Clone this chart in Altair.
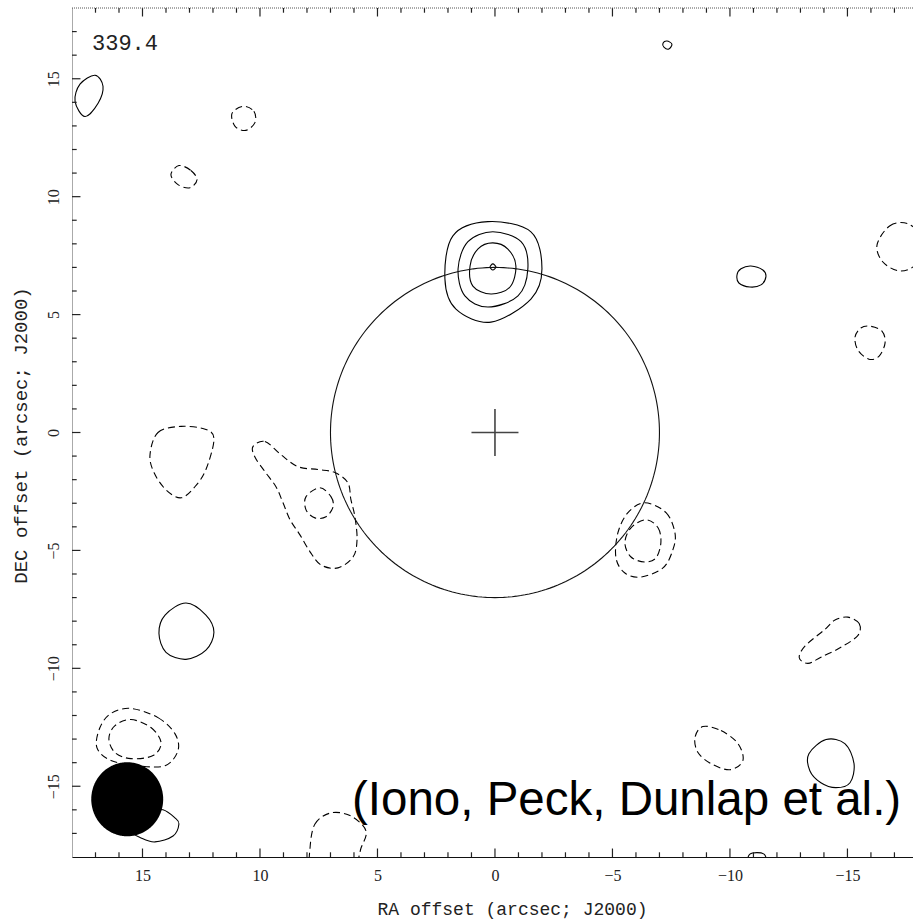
import numpy as np
import pandas as pd
import altair as alt

# ---- map extent (arcsec) ----
RA_MAX, RA_MIN = 18.0, -17.79
DEC_MIN, DEC_MAX = -18.0, 18.0

# ---- tick positions and inward tick lengths (arcsec) ----
MAJOR_TICKS = [-15, -10, -5, 0, 5, 10, 15]
MINOR_TICKS = [v for v in range(-17, 18) if v % 5 != 0]
MAJOR_LEN = 0.36
MINOR_LEN = 0.2

# ---- positive (solid) contours: (RA offset, DEC offset) ----
NW_SOLID = [(17.02, 15.15), (16.68, 14.68), (16.89, 13.96), (17.45, 13.40), (17.87, 14.04), (17.66, 14.77)]
N_SMALL = [(-7.32, 16.60), (-7.53, 16.47), (-7.40, 16.26), (-7.19, 16.34), (-7.15, 16.51)]
E_SOLID = [(-10.89, 7.06), (-11.40, 6.89), (-11.53, 6.60), (-11.32, 6.26), (-10.85, 6.17), (-10.38, 6.34), (-10.30, 6.68), (-10.47, 6.94)]
SRC_1 = [(0.30, 8.94), (-1.53, 8.51), (-2.00, 6.94), (-1.53, 5.66), (0.17, 4.68), (1.66, 5.23), (2.13, 6.51), (1.79, 8.34)]
SRC_2 = [(0.09, 8.51), (-1.11, 8.09), (-1.40, 6.94), (-0.98, 5.79), (0.30, 5.32), (1.28, 5.79), (1.57, 6.94), (1.15, 8.09)]
SRC_3 = [(0.09, 8.04), (-0.55, 7.78), (-0.89, 7.06), (-0.64, 6.17), (0.17, 5.87), (0.94, 6.21), (1.06, 7.06), (0.72, 7.79)]
SRC_4 = [(0.09, 7.15), (-0.04, 7.02), (0.09, 6.89), (0.21, 7.02)]
SW_SOLID = [(13.15, -7.23), (12.30, -7.74), (11.96, -8.47), (12.30, -9.23), (13.15, -9.62), (14.00, -9.32), (14.30, -8.51), (14.04, -7.74)]
BEAM_SIDE = [(14.13, -16.00), (13.62, -16.34), (13.45, -16.60), (13.70, -17.11), (14.47, -17.36), (15.06, -17.19), (15.49, -16.89), (15.32, -16.34), (14.77, -16.04)]
SE_SOLID = [(-14.09, -13.02), (-14.89, -13.19), (-15.28, -14.04), (-15.11, -14.85), (-14.51, -15.06), (-13.87, -14.85), (-13.40, -14.34), (-13.36, -13.62)]
S_EDGE_SOLID = [(-10.85, -17.88), (-11.45, -17.88), (-11.50, -18.40), (-10.80, -18.40)]

# ---- negative (dashed) contours ----
NW_DASH_A = [(10.72, 13.83), (10.26, 13.62), (10.21, 13.15), (10.60, 12.81), (11.06, 12.98), (11.19, 13.53)]
NW_DASH_B = [(13.45, 11.32), (12.94, 11.11), (12.68, 10.72), (12.98, 10.38), (13.49, 10.51), (13.79, 10.94)]
E_EDGE_DASH = [(-16.26, 7.96), (-16.81, 8.77), (-17.57, 8.85), (-18.21, 8.21), (-17.91, 7.15), (-17.23, 6.85), (-16.51, 7.23)]
E_DASH = [(-15.96, 4.51), (-16.47, 4.30), (-16.60, 3.79), (-16.34, 3.23), (-15.91, 3.11), (-15.45, 3.49), (-15.32, 4.04), (-15.57, 4.43)]
W_DASH = [(14.68, -0.94), (14.34, 0.00), (13.36, 0.26), (12.30, 0.13), (11.96, -0.30), (12.30, -1.57), (12.77, -2.30), (13.36, -2.77), (14.00, -2.43), (14.51, -1.70)]
W_LONG = [(10.30, -0.60), (9.79, -0.38), (9.11, -0.94), (8.38, -1.45), (7.53, -1.57), (6.81, -1.70), (6.26, -2.13), (6.13, -2.85),
          (5.96, -3.57), (5.87, -4.55), (6.04, -5.28), (6.68, -5.74), (7.40, -5.62), (7.87, -5.06), (8.30, -4.34), (8.72, -3.70),
          (9.02, -2.98), (9.32, -2.30), (9.79, -1.66), (10.21, -1.05)]
W_INNER = [(7.45, -2.34), (6.98, -2.72), (6.89, -3.15), (7.19, -3.57), (7.66, -3.62), (8.04, -3.28), (8.04, -2.72)]
SE_RING_OUT = [(-6.38, -2.98), (-7.28, -3.40), (-7.66, -4.26), (-7.57, -4.98), (-7.15, -5.74), (-6.21, -6.13), (-5.53, -5.96), (-5.15, -5.32), (-5.23, -4.26), (-5.66, -3.40)]
SE_RING_IN = [(-6.43, -3.70), (-6.94, -4.04), (-7.06, -4.68), (-6.85, -5.32), (-6.38, -5.49), (-5.79, -5.28), (-5.53, -4.68), (-5.79, -4.04)]
E_ELONG = [(-15.02, -7.83), (-15.50, -8.10), (-15.45, -8.60), (-14.72, -9.11), (-13.87, -9.53), (-13.32, -9.79), (-12.95, -9.55), (-13.20, -9.05), (-14.04, -8.35), (-14.47, -7.95)]
S_DASH = [(-8.85, -12.47), (-9.62, -12.64), (-10.34, -13.19), (-10.55, -13.91), (-10.00, -14.30), (-9.19, -14.04), (-8.64, -13.57), (-8.51, -12.94)]
SW_DASH_OUT = [(15.49, -11.70), (14.34, -12.09), (13.62, -12.77), (13.49, -13.49), (14.04, -14.13), (15.19, -14.13), (16.34, -13.91), (16.94, -13.36), (16.81, -12.51), (16.34, -11.91)]
SW_DASH_IN = [(15.49, -12.17), (14.64, -12.51), (14.21, -13.15), (14.55, -13.70), (15.49, -13.83), (16.17, -13.57), (16.43, -12.98), (16.17, -12.43)]
S_EDGE_DASH = [(7.87, -17.62), (7.66, -16.60), (6.98, -16.13), (6.13, -16.26), (5.49, -16.89), (5.70, -17.62), (5.96, -18.30), (6.90, -18.80), (7.80, -18.40)]

SOLID = {"nw": NW_SOLID, "n": N_SMALL, "e": E_SOLID, "s1": SRC_1, "s2": SRC_2, "s3": SRC_3, "s4": SRC_4,
         "sw": SW_SOLID, "bs": BEAM_SIDE, "se": SE_SOLID, "sedge": S_EDGE_SOLID}
DASHED = {"nwa": NW_DASH_A, "nwb": NW_DASH_B, "eedge": E_EDGE_DASH, "e": E_DASH, "w": W_DASH, "wl": W_LONG,
          "wi": W_INNER, "ro": SE_RING_OUT, "ri": SE_RING_IN, "el": E_ELONG, "s": S_DASH,
          "swo": SW_DASH_OUT, "swi": SW_DASH_IN, "sedge": S_EDGE_DASH}

# ---- field circle, phase centre marker, synthesized beam ----
FIELD_RADIUS = 7.0
CROSS_HALF = 1.0
BEAM_CENTER = (15.65, -15.55)
BEAM_SEMI = (1.53, 1.57)  # RA, DEC semi-axes (arcsec)

FREQ_LABEL = "339.4"
CREDIT = "(Iono, Peck, Dunlap et al.)"

W, H = 841, 849


def contour_frame(groups):
    rows = []
    for name, pts in groups.items():
        for i, (ra, dec) in enumerate(pts):
            rows.append({"name": name, "i": i, "ra": ra, "dec": dec})
    return pd.DataFrame(rows)


xscale = alt.Scale(domain=[RA_MAX, RA_MIN], nice=False, zero=False)
yscale = alt.Scale(domain=[DEC_MIN, DEC_MAX], nice=False, zero=False)

xaxis = alt.Axis(values=MAJOR_TICKS, ticks=False, grid=False, domain=True, domainColor="#111", domainWidth=1,
                 labelFont="Liberation Serif", labelFontSize=16, labelColor="#222", labelPadding=10,
                 title="RA offset (arcsec; J2000)", titleFont="Liberation Mono", titleFontSize=18,
                 titleFontWeight="normal", titleColor="#222", titleX=440, titleY=57,
                 titleBaseline="alphabetic", titleAlign="center")
yaxis = alt.Axis(values=MAJOR_TICKS, ticks=False, grid=False, domain=True, domainColor="#555", domainWidth=1,
                 domainDash=[1, 1], labelFont="Liberation Serif", labelFontSize=16, labelColor="#222",
                 labelAngle=270, labelAlign="center", labelBaseline="alphabetic", labelPadding=14,
                 title="DEC offset (arcsec; J2000)", titleFont="Liberation Mono", titleFontSize=19,
                 titleFontWeight="normal", titleColor="#222", titleAngle=270, titleX=-46, titleY=427,
                 titleBaseline="alphabetic", titleAlign="center")


def X(field):
    return alt.X(field, type="quantitative", scale=xscale, axis=xaxis)


def Y(field):
    return alt.Y(field, type="quantitative", scale=yscale, axis=yaxis)


dashed = alt.Chart(contour_frame(DASHED)).mark_line(
    interpolate="cardinal-closed", color="black", strokeWidth=1.1, strokeDash=[7, 4], clip=True
).encode(x=X("ra"), y=Y("dec"), detail="name:N", order="i:Q")

solid = alt.Chart(contour_frame(SOLID)).mark_line(
    interpolate="cardinal-closed", color="black", strokeWidth=1.1, clip=True
).encode(x=X("ra"), y=Y("dec"), detail="name:N", order="i:Q")

t = np.linspace(0, 2 * np.pi, 241)
circle_df = pd.DataFrame({"i": np.arange(t.size), "ra": FIELD_RADIUS * np.cos(t), "dec": FIELD_RADIUS * np.sin(t)})
field = alt.Chart(circle_df).mark_line(color="#111", strokeWidth=1.1, clip=True).encode(
    x=X("ra"), y=Y("dec"), order="i:Q")

cross_df = pd.DataFrame({"ra": [CROSS_HALF, 0.0], "ra2": [-CROSS_HALF, 0.0],
                         "dec": [0.0, CROSS_HALF], "dec2": [0.0, -CROSS_HALF]})
cross = alt.Chart(cross_df).mark_rule(color="#444", strokeWidth=1.6).encode(
    x=X("ra"), x2="ra2", y=Y("dec"), y2="dec2")

tb = np.linspace(0, np.pi, 121)
beam_df = pd.DataFrame({
    "bx": BEAM_CENTER[0] + BEAM_SEMI[0] * np.cos(tb),
    "by1": BEAM_CENTER[1] + BEAM_SEMI[1] * np.sin(tb),
    "by2": BEAM_CENTER[1] - BEAM_SEMI[1] * np.sin(tb),
})
beam = alt.Chart(beam_df).mark_area(color="black", opacity=1).encode(x=X("bx"), y=Y("by1"), y2="by2")


def tick_frames(values, length):
    n = len(values)
    # bottom and top edges, ticks pointing into the map
    xt = pd.DataFrame({
        "tv": list(values) * 2,
        "ta": [DEC_MIN] * n + [DEC_MAX] * n,
        "tb": [DEC_MIN + length] * n + [DEC_MAX - length] * n,
    })
    # left edge
    yt = pd.DataFrame({"tv": list(values), "ta": [RA_MAX] * n, "tb": [RA_MAX - length] * n})
    return xt, yt


tick_marks = []
for vals, ln in [(MINOR_TICKS, MINOR_LEN), (MAJOR_TICKS, MAJOR_LEN)]:
    xt, yt = tick_frames(vals, ln)
    tick_marks.append(alt.Chart(xt).mark_rule(color="#222", strokeWidth=1.2).encode(
        x=X("tv"), y=Y("ta"), y2="tb"))
    tick_marks.append(alt.Chart(yt).mark_rule(color="#222", strokeWidth=1.2).encode(
        y=Y("tv"), x=X("ta"), x2="tb"))

top_frame = alt.Chart(pd.DataFrame({"fa": [RA_MAX], "fb": [RA_MIN], "fd": [DEC_MAX]})).mark_rule(
    color="#555", strokeWidth=1, strokeDash=[1, 1]).encode(x=X("fa"), x2="fb", y=Y("fd"))

freq = alt.Chart(pd.DataFrame({"t": [FREQ_LABEL]})).mark_text(
    font="Liberation Mono", fontSize=22, color="#222", align="left", baseline="alphabetic"
).encode(x=alt.value(20), y=alt.value(42), text="t:N")

credit = alt.Chart(pd.DataFrame({"t": [CREDIT]})).mark_text(
    font="Liberation Sans", fontSize=47.5, color="black", align="left", baseline="alphabetic"
).encode(x=alt.value(280), y=alt.value(807), text="t:N")

chart = alt.layer(
    solid, dashed, field, cross, beam, *tick_marks, top_frame, freq, credit
).properties(
    width=W, height=H,
    padding={"left": 72, "top": 8, "right": 0, "bottom": 63},
    autosize=alt.AutoSizeParams(type="none"),
    background="white",
).configure_view(stroke=None)

chart.save("out.html", embed_options={"renderer": "svg", "actions": False})
